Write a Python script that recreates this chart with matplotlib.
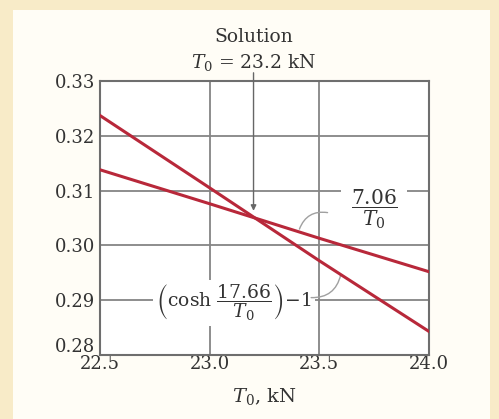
import matplotlib
matplotlib.use('Agg')
from matplotlib import pyplot as plt
from matplotlib.patches import Rectangle
from matplotlib.transforms import ScaledTranslation

# values
t0 = [22.5, 23.0, 23.5, 24.0]
ratio = [0.3138, 0.3076, 0.3013, 0.2952]      # 7.06 / T0
cosh_term = [0.3237, 0.3105, 0.2972, 0.2843]  # cosh(17.66/T0) - 1
x_ticks = [22.5, 23.0, 23.5, 24.0]
y_ticks = [0.28, 0.29, 0.30, 0.31, 0.32, 0.33]
t_sol = 23.2
y_sol = 0.3055

plt.rcParams['font.family'] = ['DejaVu Serif']
plt.rcParams['mathtext.fontset'] = 'dejavuserif'

red = '#b8283a'
grid_col = '#858585'
txt_col = '#333333'

fig = plt.figure(figsize=(4.99, 4.19), dpi=100, facecolor='#f8ebc8')
fig.patches.append(Rectangle((13/499, 0), 477/499, 1 - 10/419, transform=fig.transFigure,
                             facecolor='#fffdf6', edgecolor='none', zorder=-5))
ax = fig.add_axes([0.2004, 0.1527, 0.6593, 0.654])
ax.set_facecolor('white')

ax.set_xlim(22.5, 24.0)
ax.set_ylim(0.28, 0.33)
ax.set_xticks(x_ticks)
ax.set_xticklabels(['%.1f' % v for v in x_ticks])
ax.set_yticks(y_ticks)
ax.set_yticklabels(['%.2f' % v for v in y_ticks])
ax.tick_params(length=0, labelsize=13, labelcolor=txt_col)
ax.tick_params(axis='x', pad=0)
ax.tick_params(axis='y', pad=3.5)
# lowest y label sits a little higher, clear of 22.5
lab = ax.get_yticklabels()[0]
lab.set_transform(lab.get_transform() + ScaledTranslation(0, 7/72, fig.dpi_scale_trans))
for s in ax.spines.values():
    s.set_color('#6e6e6e')
    s.set_linewidth(1.5)

ax.grid(True, color=grid_col, linewidth=1.3, zorder=1)
ax.set_axisbelow(True)

ax.plot(t0, ratio, color=red, linewidth=2.2, zorder=3)
ax.plot(t0, cosh_term, color=red, linewidth=2.2, zorder=3)

ax.set_xlabel(r'$T_0$, kN', fontsize=14, color=txt_col, labelpad=9)

# solution marker
ax.annotate('', xy=(t_sol, y_sol + 0.0003), xytext=(t_sol, 0.332),
            arrowprops=dict(arrowstyle='-|>', color='#666666', lw=1.0, mutation_scale=8),
            annotation_clip=False, zorder=4)
ax.text(t_sol, 0.3380, 'Solution', ha='center', va='center', fontsize=13.5,
        color=txt_col, clip_on=False)
ax.text(t_sol, 0.3334, r'$T_0$ = 23.2 kN', ha='center', va='center', fontsize=13.5,
        color=txt_col, clip_on=False)

# curve labels
ax.text(23.75, 0.3066, r'$\dfrac{7.06}{T_0}$', ha='center', va='center', fontsize=14.5,
        color=txt_col, zorder=2,
        bbox=dict(facecolor='white', edgecolor='none', pad=7))
ax.annotate('', xy=(23.405, 0.3025), xytext=(23.55, 0.3059),
            arrowprops=dict(arrowstyle='-', color='#a0a0a0', lw=1.0,
                            connectionstyle='arc3,rad=0.45'), zorder=2)

ax.text(23.11, 0.2895, r'$\left(\cosh\,\dfrac{17.66}{T_0}\right)\!-\!1$', ha='center',
        va='center', fontsize=13.5, color=txt_col, zorder=2,
        bbox=dict(facecolor='white', edgecolor='none', pad=2))
ax.annotate('', xy=(23.6, 0.2951), xytext=(23.45, 0.2905),
            arrowprops=dict(arrowstyle='-', color='#a0a0a0', lw=1.0,
                            connectionstyle='arc3,rad=0.45'), zorder=2)

plt.savefig('out.png', dpi=100, facecolor=fig.get_facecolor())
